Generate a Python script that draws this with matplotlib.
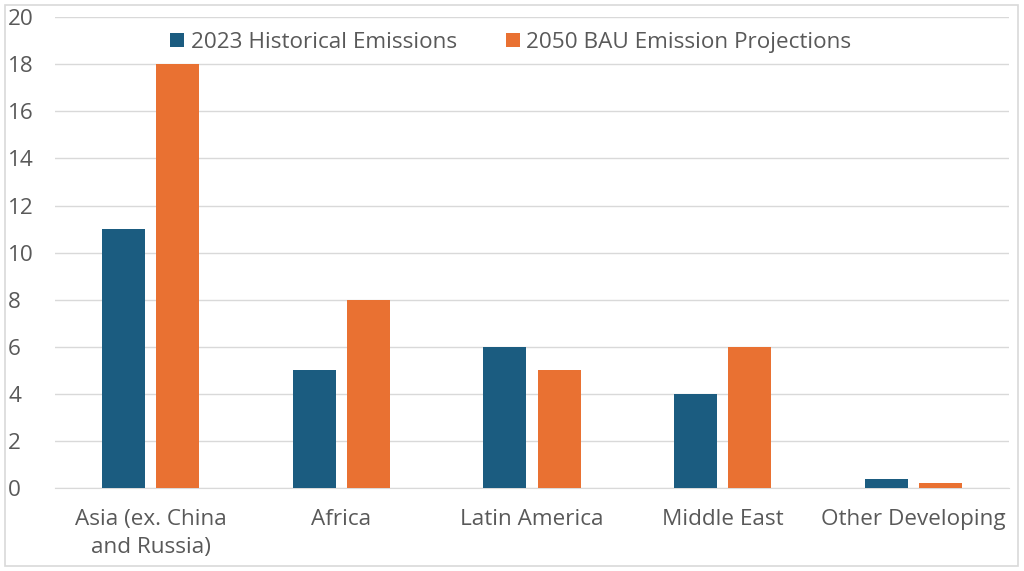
import matplotlib.pyplot as plt
import numpy as np
from matplotlib.patches import Rectangle

categories = ["Asia (ex. China\nand Russia)", "Africa", "Latin America", "Middle East", "Other Developing"]
historical_2023 = [11, 5, 6, 4, 0.4]
bau_2050 = [18, 8, 5, 6, 0.2]
series_labels = ["2023 Historical Emissions", "2050 BAU Emission Projections"]
yticks = list(range(0, 21, 2))

blue = "#1B5C80"
orange = "#E97132"
textc = "#595959"
gridc = "#D9D9D9"
fs = 16.2

plt.rcParams['font.family'] = ['Open Sans', 'DejaVu Sans']

fig = plt.figure(figsize=(10.24, 5.71), dpi=100)
ax = fig.add_axes([0.054, 0.145, 0.931, 0.825])

x = np.arange(len(categories))
w = 0.225
gap = 0.06
ax.bar(x - (w + gap) / 2, historical_2023, w, color=blue, label=series_labels[0], zorder=3)
ax.bar(x + (w + gap) / 2, bau_2050, w, color=orange, label=series_labels[1], zorder=3)

ax.set_xlim(-0.5, len(categories) - 0.5)
ax.set_ylim(0, 20)
ax.set_yticks(yticks)
ax.set_xticks(x)
ax.set_xticklabels(categories, fontsize=fs, color=textc, linespacing=1.45)
ax.tick_params(axis='y', labelsize=fs, labelcolor=textc, length=0, pad=34)
ax.tick_params(axis='x', length=0, pad=15)
for lab in ax.get_yticklabels():
    lab.set_horizontalalignment('left')
ax.yaxis.grid(True, color=gridc, linewidth=1, zorder=0)
for s in ['top', 'right', 'left']:
    ax.spines[s].set_visible(False)
ax.spines['bottom'].set_color(gridc)

leg = fig.legend(*ax.get_legend_handles_labels(), loc='center', bbox_to_anchor=(0.499, 0.926),
                 ncol=2, frameon=False, fontsize=fs, handlelength=0.6, handleheight=0.6,
                 handletextpad=0.3, columnspacing=2.2, labelcolor=textc)

fig.patches.append(Rectangle((0.005, 0.008), 0.989, 0.984, transform=fig.transFigure,
                             fill=False, edgecolor=gridc, linewidth=1.2))

fig.savefig("out.png", dpi=100)
